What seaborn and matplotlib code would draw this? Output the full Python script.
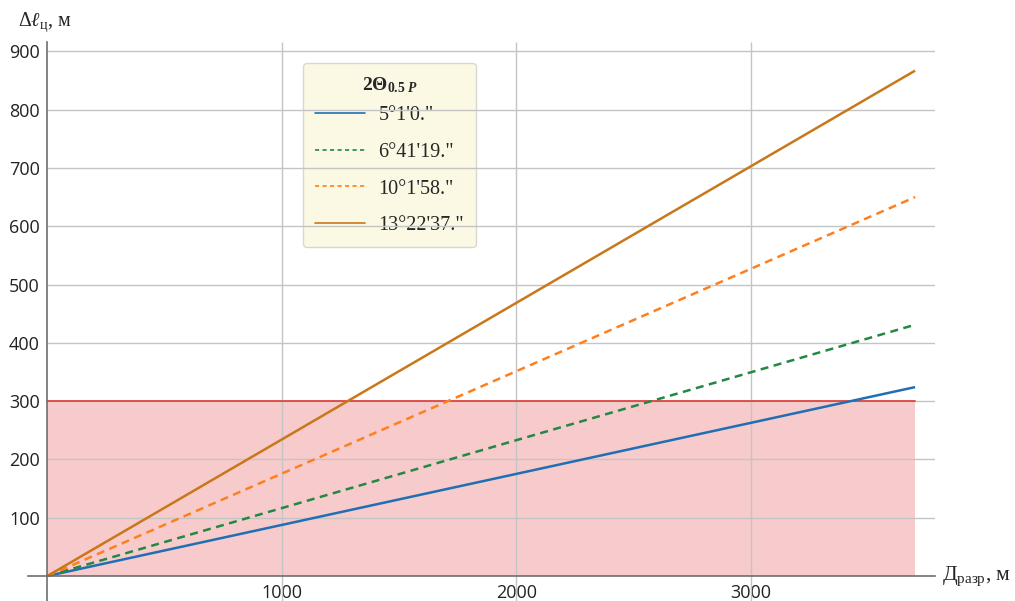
import pandas as pd
import matplotlib
matplotlib.use('Agg')
import matplotlib.pyplot as plt
import seaborn as sns
from matplotlib.lines import Line2D

# Datos (rectas desde el origen)
angle_labels = ['5°1\'0."', '6°41\'19."', '10°1\'58."', '13°22\'37."']
x_end = [0, 3700]
y_end_blue = [0, 324]
y_end_green = [0, 431]
y_end_orange = [0, 650]
y_end_brown = [0, 867]
limit_value = 300
x_ticks = [1000, 2000, 3000]
y_ticks = [100, 200, 300, 400, 500, 600, 700, 800, 900]

colors = ['#1f6fb4', '#228844', '#ff7f1e', '#c8781a']
dashes = [(1, 0), (3.2, 2.2), (3.2, 2.2), (1, 0)]

series = [y_end_blue, y_end_green, y_end_orange, y_end_brown]
rows = []
for lab, ys in zip(angle_labels, series):
    for xv, yv in zip(x_end, ys):
        rows.append({'D': xv, 'dl': yv, 'angle': lab})
df = pd.DataFrame(rows)

sns.set_style('white')
plt.rcParams['font.family'] = ['Liberation Serif', 'DejaVu Serif']
plt.rcParams['mathtext.fontset'] = 'custom'
plt.rcParams['mathtext.rm'] = 'Liberation Serif'
plt.rcParams['mathtext.it'] = 'Liberation Serif:italic'
plt.rcParams['mathtext.bf'] = 'Liberation Serif:bold'
plt.rcParams['mathtext.bfit'] = 'Liberation Serif:bold:italic'

fig = plt.figure(figsize=(10.15, 6.01), dpi=100)
ax = fig.add_axes([0.0276, 0.0, 0.8936, 0.930])
ax.set_xlim(-83, 3785)
ax.set_ylim(-43, 916)

# Zona por debajo del límite
ax.fill_between(x_end, 0, limit_value, color='#f7cbcb', lw=0, zorder=0.6)
ax.plot(x_end, [limit_value, limit_value], color='#e0453f', lw=1.3, zorder=2)

# Rejilla
ax.hlines(y_ticks, 0, 3785, color='#c4c4c4', lw=1, zorder=1)
ax.vlines(x_ticks, -43, 916, color='#c4c4c4', lw=1, zorder=1)

sns.lineplot(data=df, x='D', y='dl', hue='angle', style='angle',
             palette=dict(zip(angle_labels, colors)),
             dashes=dict(zip(angle_labels, dashes)),
             lw=1.8, legend=False, ax=ax, zorder=3)

# Ejes cruzando en el origen
for s in ['top', 'right']:
    ax.spines[s].set_visible(False)
ax.spines['left'].set_position(('data', 0))
ax.spines['bottom'].set_position(('data', 0))
for s in ['left', 'bottom']:
    ax.spines[s].set_color('#6e6e6e')
    ax.spines[s].set_linewidth(1.2)
    ax.spines[s].set_zorder(4)

ax.set_xticks(x_ticks)
ax.set_yticks(y_ticks)
ax.tick_params(axis='both', direction='inout', length=5, width=1, color='#333333',
               labelsize=13, pad=3)
for lab in ax.get_xticklabels() + ax.get_yticklabels():
    lab.set_family('Open Sans')
    lab.set_color('#222222')
ax.set_xlabel('')
ax.set_ylabel('')

fig.text(0.018, 0.963, r'$\Delta\ell_{\mathrm{ц}}$, м', fontsize=14.5, ha='left', va='center')
fig.text(0.928, 0.042, r'$\mathrm{Д}_{\mathrm{разр}}$, м', fontsize=15.5, ha='left', va='center')

# Leyenda
handles = [Line2D([0], [0], color=c, lw=1.2, linestyle='-') if d == (1, 0)
           else Line2D([0], [0], color=c, lw=1.2, linestyle=(0, (2.5, 2)))
           for c, d in zip(colors, dashes)]
leg = ax.legend(handles, angle_labels, title=r'$\mathbf{2\Theta}_{\mathbf{0.5}\ \mathbfit{P}}$',
                loc='upper left', bbox_to_anchor=(0.303, 0.962), borderaxespad=0,
                frameon=True, fancybox=True, fontsize=14.5, title_fontsize=14,
                handlelength=2.5, labelspacing=0.87, borderpad=0.6, handletextpad=0.65)
leg._legend_box.sep = 8
leg.get_frame().set_facecolor('#fbf8e4')
leg.get_frame().set_edgecolor('#d8d8d0')
leg.get_frame().set_alpha(1)
leg.set_zorder(0.8)

plt.savefig('out.png', dpi=100)
